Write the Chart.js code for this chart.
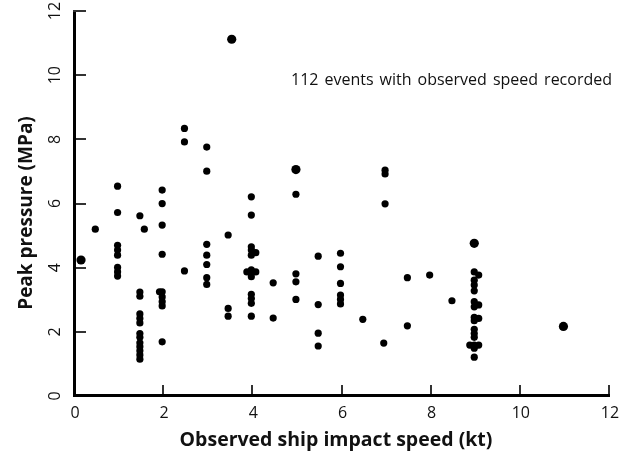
<!DOCTYPE html>
<html>
<head>
<meta charset="utf-8">
<script src="https://cdn.jsdelivr.net/npm/chart.js@4.4.0/dist/chart.umd.min.js"></script>
<style>
  html, body { margin: 0; padding: 0; background: #fff; }
  #chart { display: block; }
</style>
</head>
<body>
<canvas id="chart" width="631" height="455"></canvas>
<script>
// observed impact speed (kt) / peak pressure (MPa)
const speed = [
  0.5,
  1, 1, 1, 1, 1, 1, 1, 1,
  1.5, 1.5, 1.5, 1.5, 1.5, 1.5, 1.5, 1.5, 1.5, 1.5, 1.5, 1.5, 1.5, 1.6,
  2, 2, 2, 2, 2, 1.94, 2, 2, 2, 2,
  2.5, 2.5, 2.5,
  3, 3, 3, 3, 3, 3, 3,
  3.48, 3.48, 3.48,
  4, 4, 4, 4, 4, 4, 4, 4, 4, 4, 4, 4, 4.1, 4.1, 3.9,
  4.49, 4.49,
  5, 5, 5, 5,
  5.5, 5.5, 5.5, 5.5,
  6, 6, 6, 6, 6, 6,
  6.5,
  7, 7, 7, 6.97,
  7.5, 7.5,
  8,
  8.5,
  9, 9.1, 9, 9, 9, 9, 9.1, 9, 9, 9.1, 9, 9, 9, 9, 8.9, 9, 9.1, 9, 9
];
const pressure = [
  5.23,
  6.57, 5.75, 4.73, 4.58, 4.42, 4.04, 3.90, 3.77,
  5.65, 3.27, 3.14, 2.59, 2.45, 2.31, 1.98, 1.86, 1.69, 1.57, 1.44, 1.31, 1.18, 5.23,
  6.45, 6.03, 5.36, 4.45, 3.28, 3.28, 3.12, 2.97, 2.84, 1.72,
  8.37, 7.95, 3.93,
  7.79, 7.04, 4.76, 4.42, 4.13, 3.72, 3.51,
  5.05, 2.76, 2.52,
  6.24, 5.67, 4.68, 4.58, 4.42, 3.96, 3.90, 3.75, 3.20, 3.07, 2.92, 2.52, 4.50, 3.90, 3.90,
  3.56, 2.46,
  6.32, 3.84, 3.59, 3.04,
  4.39, 2.88, 1.99, 1.59,
  4.48, 4.06, 3.54, 3.18, 3.04, 2.90,
  2.42,
  7.07, 6.95, 6.02, 1.68,
  3.72, 2.22,
  3.80,
  3.00,
  3.90, 3.80, 3.64, 3.49, 3.31, 2.97, 2.87, 2.81, 2.48, 2.45, 2.38, 2.11, 1.98, 1.86, 1.62, 1.62, 1.62, 1.52, 1.24
];
// the few slightly larger dots
const bigSpeed = [0.18, 3.56, 5.0, 9.0, 11.0];
const bigPressure = [4.27, 11.15, 7.09, 4.79, 2.2];

const xTicks = [0, 2, 4, 6, 8, 10, 12];
const yTicks = [0, 2, 4, 6, 8, 10, 12];
const xTitle = 'Observed ship impact speed (kt)';
const yTitle = 'Peak pressure (MPa)';
const note = '112 events with observed speed recorded';

const toPts = (xs, ys) => xs.map((x, i) => ({ x: x, y: ys[i] }));

const FONT = '"Open Sans", "Noto Sans", sans-serif';

// axes drawn by hand: inward ticks, rotated y labels
const axesPlugin = {
  id: 'axesPlugin',
  afterDraw(chart) {
    const ctx = chart.ctx;
    const xs = chart.scales.x, ys = chart.scales.y;
    const a = chart.chartArea;
    ctx.save();

    // ticks
    ctx.strokeStyle = '#333';
    ctx.lineWidth = 2;
    yTicks.forEach(v => {
      const py = Math.round(ys.getPixelForValue(v)) - 1;
      ctx.beginPath();
      ctx.moveTo(a.left, py);
      ctx.lineTo(a.left + 13, py);
      ctx.stroke();
    });
    xTicks.forEach(v => {
      const px = Math.round(xs.getPixelForValue(v)) + 1;
      ctx.beginPath();
      ctx.moveTo(px, a.bottom);
      ctx.lineTo(px, a.bottom - 12);
      ctx.stroke();
    });

    // axis lines
    ctx.strokeStyle = '#000';
    ctx.lineWidth = 3;
    ctx.beginPath();
    ctx.moveTo(a.left + 1.5, a.top);
    ctx.lineTo(a.left + 1.5, a.bottom - 1.5);
    ctx.lineTo(a.right + 2, a.bottom - 1.5);
    ctx.stroke();

    // tick labels
    ctx.fillStyle = '#111';
    ctx.font = '16px ' + FONT;
    ctx.textAlign = 'center';
    ctx.textBaseline = 'middle';
    xTicks.forEach(v => {
      ctx.fillText(String(v), xs.getPixelForValue(v) + 2, 413);
    });
    yTicks.forEach(v => {
      ctx.save();
      ctx.translate(55, ys.getPixelForValue(v) - 1);
      ctx.rotate(-Math.PI / 2);
      ctx.fillText(String(v), 0, 0);
      ctx.restore();
    });

    // titles
    ctx.font = 'bold 19.5px ' + FONT;
    ctx.fillText(xTitle, 336, 440);
    ctx.save();
    ctx.translate(27, 213);
    ctx.rotate(-Math.PI / 2);
    ctx.font = 'bold 19px ' + FONT;
    ctx.fillText(yTitle, 0, 0);
    ctx.restore();

    // note, spread to its width in the figure
    ctx.font = '16px ' + FONT;
    ctx.textAlign = 'left';
    const words = note.split(' ');
    const plain = words.reduce((s, w) => s + ctx.measureText(w).width, 0);
    const gap = (321 - plain) / (words.length - 1);
    let cx = 291;
    words.forEach(w => {
      ctx.fillText(w, cx, 80);
      cx += ctx.measureText(w).width + gap;
    });

    ctx.restore();
  }
};

new Chart(document.getElementById('chart'), {
  type: 'scatter',
  data: {
    datasets: [
      {
        data: toPts(speed, pressure),
        backgroundColor: '#000',
        borderColor: '#000',
        pointRadius: 3.6,
        pointBorderWidth: 0
      },
      {
        data: toPts(bigSpeed, bigPressure),
        backgroundColor: '#000',
        borderColor: '#000',
        pointRadius: 4.6,
        pointBorderWidth: 0
      }
    ]
  },
  options: {
    responsive: false,
    animation: false,
    layout: { padding: { left: 73, right: 23, top: 12, bottom: 58 } },
    plugins: {
      legend: { display: false },
      tooltip: { enabled: false }
    },
    scales: {
      x: { type: 'linear', min: 0, max: 12, display: false },
      y: { type: 'linear', min: 0, max: 12, display: false }
    }
  },
  plugins: [axesPlugin]
});
</script>
</body>
</html>
